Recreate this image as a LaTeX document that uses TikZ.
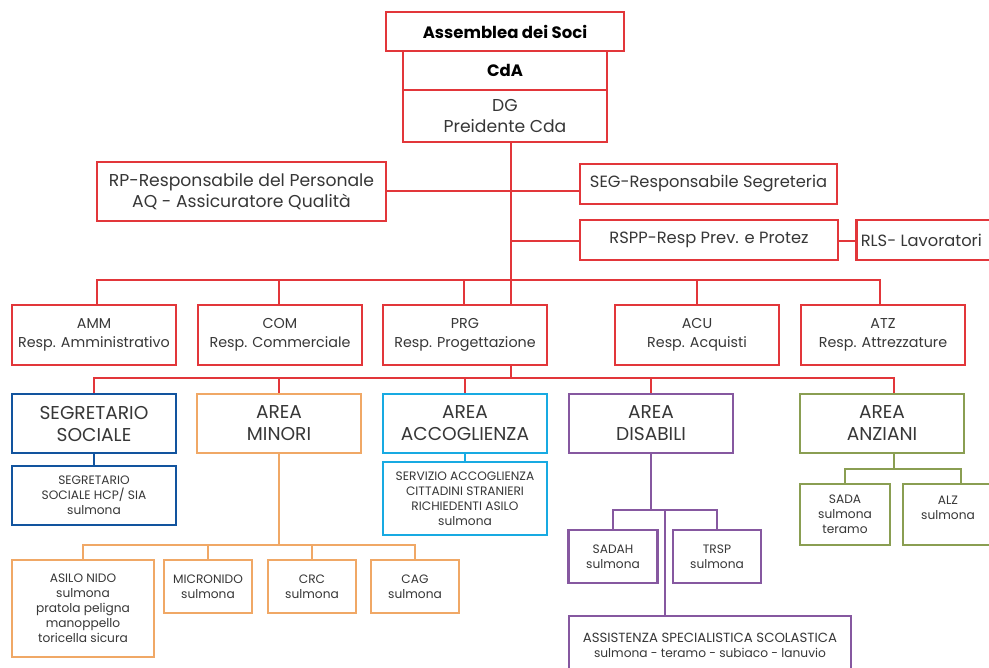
\documentclass[tikz,border=0pt]{standalone}
\usepackage{fontspec}
\setmainfont{Poppins}
\definecolor{cred}{RGB}{226,54,58}
\definecolor{cblue}{RGB}{18,84,158}
\definecolor{corange}{RGB}{240,168,102}
\definecolor{ccyan}{RGB}{24,170,226}
\definecolor{cpurple}{RGB}{134,88,160}
\definecolor{colive}{RGB}{138,158,82}
\definecolor{ctext}{RGB}{55,55,55}
\tikzset{
  box/.style={draw, line width=2.6pt, fill=white, align=center, inner sep=0pt, text=ctext},
  redbox/.style={box, draw=cred},
  titlefont/.style={font=\fontsize{16.5}{20}\selectfont\bfseries, text=black},
  bigfont/.style={font=\fontsize{17.2}{21.5}\selectfont},
  segfont/.style={font=\fontsize{16.3}{20}\selectfont},
  midfont/.style={font=\fontsize{14.3}{19}\selectfont},
  areafont/.style={font=\fontsize{18.6}{22}\selectfont},
  smallfont/.style={font=\fontsize{12.2}{15}\selectfont},
  conn/.style={line width=2pt},
}
\begin{document}
\begin{tikzpicture}[x=1pt,y=-1pt]
\clip (0,0) rectangle (989,668);
\fill[white] (0,0) rectangle (989,668);

% coordinates for connector positions
\coordinate (trunk) at (511,0);
\coordinate (b2) at (0,280);
\coordinate (b3) at (0,378);
\coordinate (b4) at (0,545);
\coordinate (b5) at (0,510);
\coordinate (b6) at (0,469);
\coordinate (ammd) at (97,0);
\coordinate (atzd) at (880,0);
\coordinate (anzd) at (894,0);
\coordinate (asd) at (665,0);
\coordinate (alzd) at (961,0);

% connectors (drawn first, under boxes)
\draw[conn,cred] (trunk |- 0,142) -- (trunk |- 0,305);
\draw[conn,cred] (386,191) -- (580,191);
\draw[conn,cred] (trunk |- 0,241) -- (580,241);
\draw[conn,cred] (838,241) -- (855,241);
\draw[conn,cred] (ammd |- 0,305) -- (ammd |- b2) -- (atzd |- b2) -- (atzd |- 0,305);
\draw[conn,cred] (279,280) -- (279,305);
\draw[conn,cred] (464,280) -- (464,305);
\draw[conn,cred] (697,280) -- (697,305);
\draw[conn,cred] (trunk |- 0,365) -- (trunk |- b3);
\draw[conn,cred] (94,394) -- (94,378) -- (anzd |- b3) -- (anzd |- 0,394);
\draw[conn,cred] (279,378) -- (279,394);
\draw[conn,cred] (465,378) -- (465,394);
\draw[conn,cred] (651,378) -- (651,394);
\draw[conn,cblue] (94,453) -- (94,466);
\draw[conn,ccyan] (465,453) -- (465,462);
\draw[conn,corange] (279,453) -- (279,545);
\draw[conn,corange] (83,560) -- (83,545) -- (415,545) -- (415,560);
\draw[conn,corange] (208,545) -- (208,560);
\draw[conn,corange] (312,545) -- (312,560);
\draw[conn,cpurple] (651,453) -- (651,510);
\draw[conn,cpurple] (613,530) -- (613,510) -- (717,510) -- (717,530);
\draw[conn,cpurple] (asd |- b5) -- (asd |- 0,616);
\draw[conn,colive] (anzd |- 0,453) -- (anzd |- b6);
\draw[conn,colive] (845,484) -- (845,469) -- (alzd |- b6) -- (alzd |- 0,484);

% top
\node[redbox, titlefont, minimum width=238pt, minimum height=39pt] (asm) at (505,31.5) {Assemblea dei Soci};
\node[redbox, titlefont, minimum width=204pt, minimum height=39pt] (cda) at (505,70.5) {CdA};
\node[redbox, bigfont, minimum width=204pt, minimum height=52pt] (dg) at (505,116) {DG\\Preidente Cda};

\node[redbox, bigfont, minimum width=289pt, minimum height=59pt] (rp) at (241.5,191.5) {RP-Responsabile del Personale\\AQ - Assicuratore Qualità};
\node[redbox, segfont, minimum width=257pt, minimum height=40pt] (seg) at (708.5,184) {SEG-Responsabile Segreteria};
\node[redbox, segfont, minimum width=258pt, minimum height=40pt] (rspp) at (709,240) {RSPP-Resp Prev. e Protez};
\node[redbox, segfont, minimum width=138pt, minimum height=40pt, anchor=west] (rls) at (855,240) {\hspace*{-8pt}RLS- Lavoratori};

% second row
\foreach \n/\x/\t in {amm/94/{AMM\\Resp. Amministrativo}, com/280/{COM\\Resp. Commerciale}, prg/465/{PRG\\Resp. Progettazione}, acu/697/{ACU\\Resp. Acquisti}, atz/883/{ATZ\\Resp. Attrezzature}}
  \node[redbox, midfont, minimum width=164pt, minimum height=60pt] (\n) at (\x,335) {\t};

% areas
\node[box, draw=cblue, areafont, minimum width=164pt, minimum height=59pt] (ss) at (94,423.5) {SEGRETARIO\\SOCIALE};
\node[box, draw=corange, areafont, minimum width=164pt, minimum height=59pt] (mino) at (279,423.5) {AREA\\MINORI};
\node[box, draw=ccyan, areafont, minimum width=164pt, minimum height=59pt] (acc) at (465,423.5) {AREA\\ACCOGLIENZA};
\node[box, draw=cpurple, areafont, minimum width=164pt, minimum height=59pt] (dis) at (651,423.5) {AREA\\DISABILI};
\node[box, draw=colive, areafont, minimum width=164pt, minimum height=59pt] (anz) at (882,423.5) {AREA\\ANZIANI};

% area children
\node[box, draw=cblue, smallfont, minimum width=164pt, minimum height=59pt] (ss2) at (94,495.5) {SEGRETARIO\\SOCIALE HCP/ SIA\\sulmona};
\node[box, draw=ccyan, smallfont, minimum width=164pt, minimum height=73pt] (acc2) at (465,498.5) {SERVIZIO ACCOGLIENZA\\CITTADINI STRANIERI\\RICHIEDENTI ASILO\\sulmona};

\node[box, draw=corange, smallfont, minimum width=142pt, minimum height=97pt] (asilo) at (83,608.5) {ASILO NIDO\\sulmona\\pratola peligna\\manoppello\\toricella sicura};
\node[box, draw=corange, smallfont, minimum width=88pt, minimum height=53pt] (micro) at (208,586.5) {MICRONIDO\\sulmona};
\node[box, draw=corange, smallfont, minimum width=88pt, minimum height=53pt] (crc) at (312,586.5) {CRC\\sulmona};
\node[box, draw=corange, smallfont, minimum width=88pt, minimum height=53pt] (cag) at (415,586.5) {CAG\\sulmona};

\node[box, draw=cpurple, smallfont, minimum width=89pt, minimum height=53pt] (sadah) at (613,556.5) {SADAH\\sulmona};
\node[box, draw=cpurple, smallfont, minimum width=88pt, minimum height=53pt] (trsp) at (717,556.5) {TRSP\\sulmona};
\node[box, draw=cpurple, smallfont, minimum width=282pt, minimum height=58pt] (assist) at (710,645) {{\fontsize{13.3}{15}\selectfont ASSISTENZA SPECIALISTICA SCOLASTICA}\\sulmona - teramo - subiaco - lanuvio};

\node[box, draw=colive, smallfont, minimum width=90pt, minimum height=61pt] (sada) at (845,514.5) {SADA\\sulmona\\teramo};
\node[box, draw=colive, smallfont, minimum width=90pt, minimum height=61pt, text depth=14pt] (alz) at (948,514.5) {ALZ\\sulmona};
\end{tikzpicture}
\end{document}
